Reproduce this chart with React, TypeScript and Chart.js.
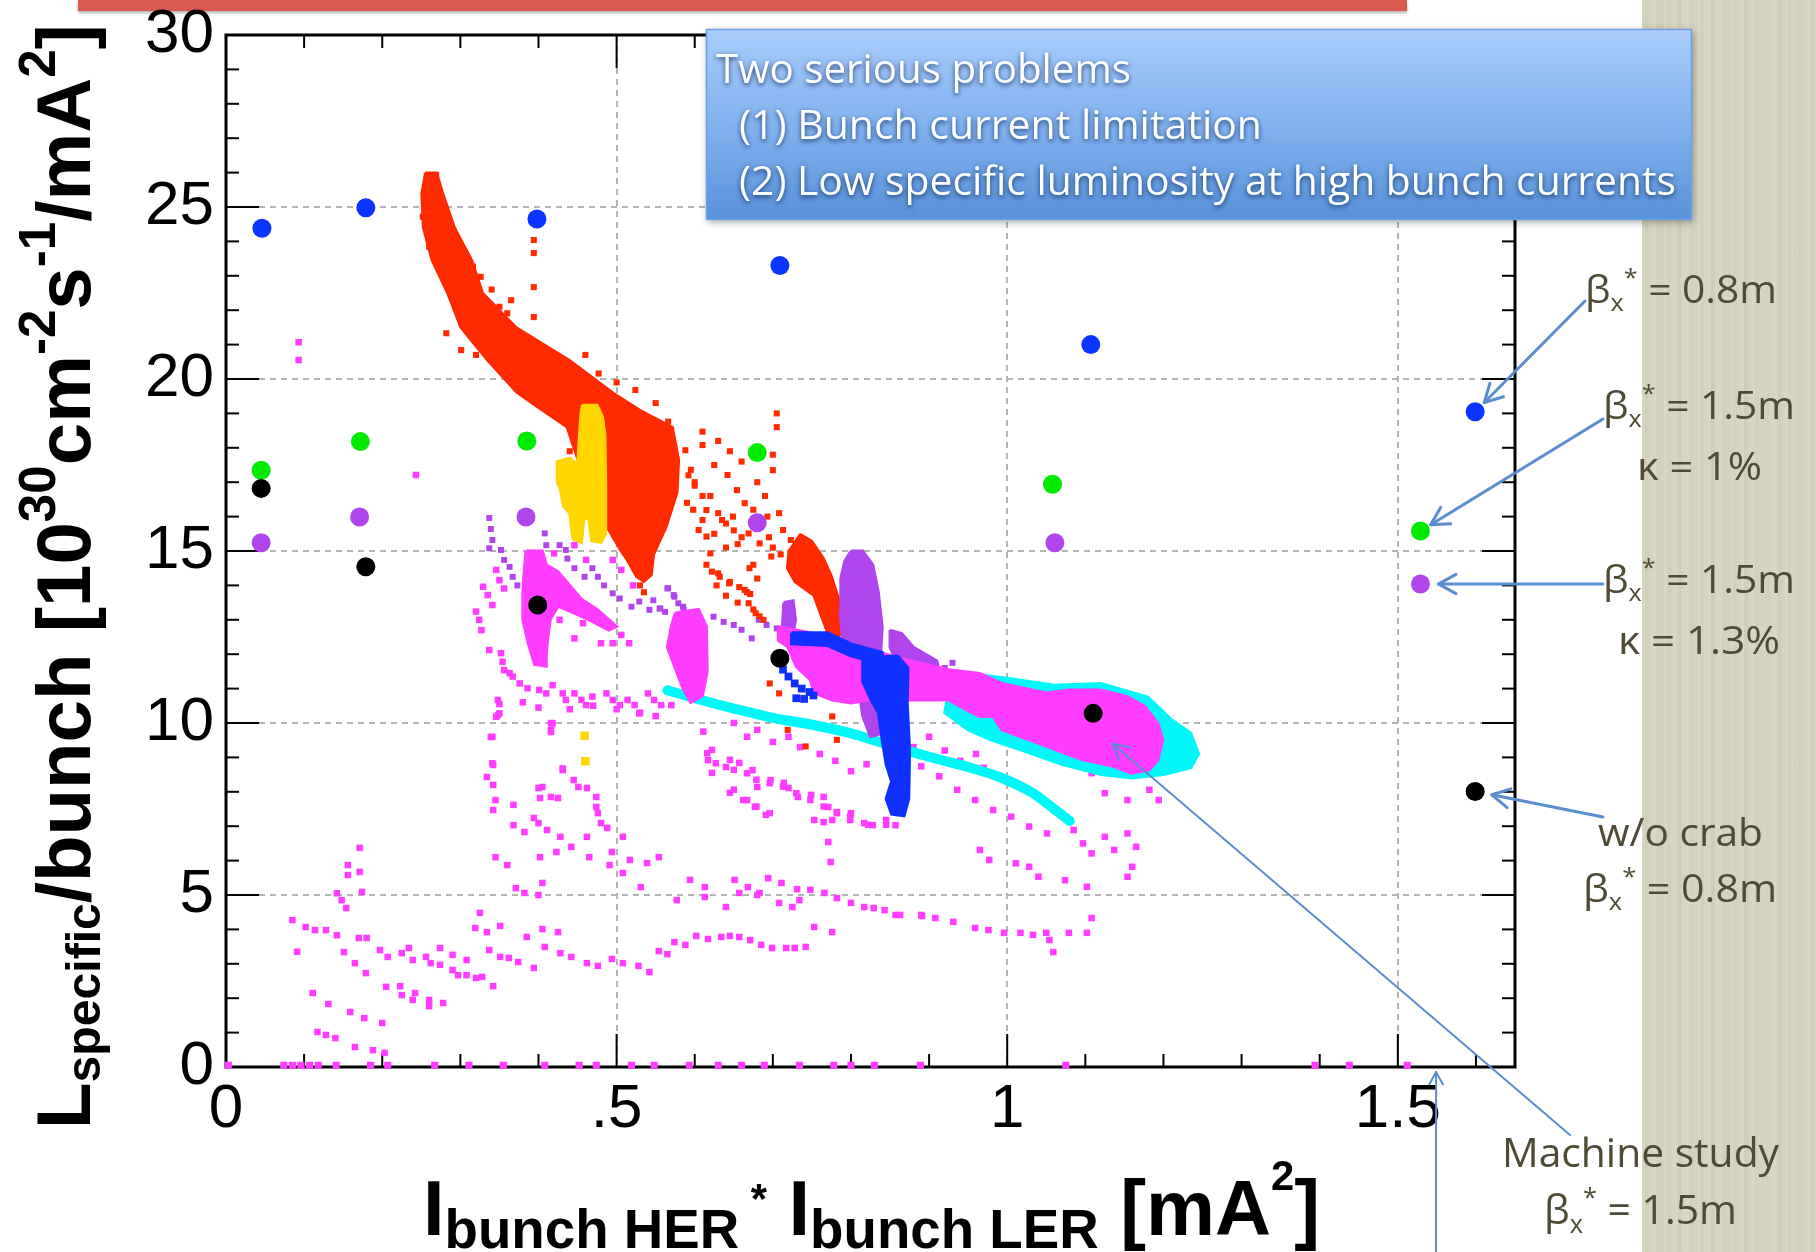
import React, { useEffect, useRef } from 'react';
import { Chart, registerables } from 'chart.js';

Chart.register(...registerables);

type P = [number, number];

// ---------------- axes ----------------
const xTickValues = [0, 0.5, 1, 1.5];
const xTickLabels = ['0', '.5', '1', '1.5'];
const yTickValues = [0, 5, 10, 15, 20, 25, 30];
const yTickLabels = ['0', '5', '10', '15', '20', '25', '30'];

// ---------------- big markers (machine runs) ----------------
const blueX = [0.046, 0.179, 0.398, 0.709, 1.107, 1.599];
const blueY = [24.38, 24.98, 24.65, 23.3, 21.0, 19.05];
const greenX = [0.045, 0.172, 0.385, 0.68, 1.058, 1.529];
const greenY = [17.35, 18.18, 18.2, 17.86, 16.94, 15.58];
const purpleX = [0.045, 0.171, 0.384, 0.68, 1.061, 1.529];
const purpleY = [15.24, 15.99, 15.99, 15.82, 15.24, 14.04];
const blackX = [0.045, 0.179, 0.399, 0.709, 1.11, 1.599];
const blackY = [16.82, 14.54, 13.43, 11.88, 10.28, 8.01];

// ---------------- clouds: dense regions (outlines) ----------------
const redCore: P[] = [[0.255,26.0],[0.25,25.4],[0.252,24.4],[0.263,23.46],[0.283,22.5],[0.3,21.5],[0.334,20.55],[0.372,19.6],[0.41,19.0],[0.436,18.6],[0.45,17.65],[0.47,16.7],[0.487,15.7],[0.505,15.0],[0.513,14.74],[0.525,14.25],[0.535,14.1],[0.545,14.3],[0.548,14.9],[0.564,15.7],[0.578,16.7],[0.58,17.65],[0.572,18.6],[0.53,19.1],[0.496,19.6],[0.44,20.55],[0.372,21.5],[0.329,22.5],[0.315,23.46],[0.293,24.4],[0.278,25.4],[0.27,26.0]];
const redColumn: P[] = [[0.735,15.5],[0.75,15.3],[0.765,14.8],[0.775,14.3],[0.785,13.6],[0.79,12.8],[0.785,12.5],[0.77,12.6],[0.76,13.2],[0.752,13.7],[0.74,13.9],[0.728,14.1],[0.718,14.5],[0.72,15.0]];
const yellowCore: P[] = [[0.456,19.24],[0.475,19.24],[0.482,18.9],[0.485,18.4],[0.486,17.0],[0.486,15.5],[0.48,15.25],[0.468,15.3],[0.464,16.0],[0.458,15.9],[0.455,15.25],[0.444,15.35],[0.44,16.1],[0.432,16.3],[0.428,16.8],[0.424,17.0],[0.424,17.6],[0.44,17.7],[0.45,17.5],[0.452,18.2],[0.454,18.9]];
const purpleColumn: P[] = [[0.8,15.0],[0.815,15.0],[0.828,14.6],[0.835,13.8],[0.84,12.8],[0.838,12.0],[0.84,11.2],[0.845,10.5],[0.84,9.7],[0.825,9.6],[0.815,10.2],[0.81,11.0],[0.8,11.6],[0.79,12.3],[0.786,13.2],[0.787,14.2],[0.792,14.7]];
const purpleSmall: P[] = [[0.714,13.5],[0.726,13.55],[0.729,13.0],[0.726,12.6],[0.712,12.7]];
const purplePatch: P[] = [[0.85,12.7],[0.865,12.6],[0.88,12.2],[0.91,11.8],[0.915,11.3],[0.9,11.1],[0.875,11.3],[0.86,11.7],[0.85,12.2]];
const magentaA: P[] = [[0.384,15.0],[0.405,15.0],[0.41,14.6],[0.425,14.4],[0.44,14.0],[0.455,13.6],[0.475,13.3],[0.5,12.8],[0.49,12.7],[0.465,13.0],[0.445,13.2],[0.425,13.4],[0.415,13.0],[0.412,12.5],[0.41,12.0],[0.41,11.65],[0.395,11.7],[0.387,12.3],[0.38,13.0],[0.38,13.8],[0.382,14.5]];
const magentaB: P[] = [[0.575,13.2],[0.605,13.3],[0.615,12.8],[0.616,11.5],[0.61,10.8],[0.595,10.6],[0.585,11.0],[0.575,11.6],[0.565,12.2],[0.57,12.8]];
const magentaC: P[] = [[0.707,12.8],[0.753,12.6],[0.8,12.3],[0.86,11.9],[0.925,11.55],[0.965,11.44],[0.993,11.15],[1.05,10.87],[1.079,10.96],[1.119,10.96],[1.153,10.77],[1.176,10.48],[1.193,9.99],[1.199,9.51],[1.193,8.93],[1.182,8.64],[1.159,8.54],[1.136,8.74],[1.119,8.83],[1.097,8.93],[1.074,9.12],[1.051,9.32],[1.028,9.51],[0.993,9.8],[0.982,10.19],[0.965,10.19],[0.948,10.38],[0.925,10.67],[0.879,10.67],[0.822,10.67],[0.8,10.58],[0.776,10.67],[0.753,10.87],[0.748,11.25],[0.73,11.64],[0.719,12.22],[0.707,12.4]];
const cyanHead: P[] = [[0.93,11.5],[1.0,11.3],[1.06,11.1],[1.12,11.15],[1.18,10.75],[1.21,10.1],[1.235,9.7],[1.245,9.1],[1.235,8.7],[1.2,8.5],[1.16,8.4],[1.12,8.5],[1.07,8.8],[1.02,9.2],[0.98,9.5],[0.95,9.8],[0.92,10.3]];
const cyanBand: P[] = [[0.565,10.95],[0.6,10.72],[0.65,10.42],[0.7,10.15],[0.75,9.95],[0.8,9.7],[0.85,9.35],[0.9,9.02],[0.95,8.72],[0.99,8.43],[1.03,8.0],[1.06,7.5],[1.08,7.15]];
const blueStrand: P[] = [[0.815,11.9],[0.86,11.95],[0.873,11.6],[0.872,10.6],[0.875,9.2],[0.874,7.8],[0.868,7.3],[0.852,7.35],[0.845,7.8],[0.852,8.3],[0.845,8.8],[0.84,9.5],[0.835,10.3],[0.825,10.7],[0.815,11.2]];
const blueTop: P[] = [[0.724,12.62],[0.77,12.62],[0.8,12.3],[0.84,12.05],[0.84,11.7],[0.8,11.95],[0.77,12.25],[0.724,12.3]];
const blueHook: P[] = [[0.713,11.55],[0.72,11.35],[0.728,11.15],[0.737,11.0],[0.747,10.9],[0.752,10.8],[0.74,10.7],[0.73,10.72]];

// ---------------- clouds: sparse points ----------------
const yellowDots: P[] = [[0.459,9.63],[0.46,8.89]];
const redDots: P[] = [[0.257,25.88],[0.269,25.93],[0.272,25.4],[0.252,24.72],[0.291,24.33],[0.296,24.04],[0.26,23.85],[0.274,23.56],[0.316,23.27],[0.326,22.97],[0.34,22.6],[0.35,22.1],[0.365,22.29],[0.36,21.91],[0.282,21.33],[0.301,20.84],[0.32,20.7],[0.384,20.36],[0.46,20.7],[0.477,20.16],[0.5,19.9],[0.524,19.68],[0.55,19.3],[0.566,18.76],[0.61,18.47],[0.61,18.08],[0.588,17.93],[0.595,17.36],[0.625,17.5],[0.642,17.21],[0.654,16.77],[0.664,16.39],[0.615,16.19],[0.605,15.61],[0.615,15.42],[0.649,16.0],[0.669,15.51],[0.693,16.0],[0.713,15.61],[0.723,15.32],[0.62,14.93],[0.63,14.35],[0.644,14.06],[0.664,13.87],[0.669,13.48],[0.678,13.19],[0.688,13.0],[0.683,15.22],[0.698,14.84],[0.708,16.1],[0.566,16.58],[0.394,24.04],[0.394,23.66],[0.394,22.67],[0.394,21.8],[0.705,19.0],[0.705,18.6],[0.7,17.8],[0.7,17.35],[0.622,14.4],[0.632,14.25],[0.645,14.1],[0.657,13.95],[0.667,13.8],[0.671,13.75],[0.675,13.3],[0.683,13.1],[0.696,11.15],[0.708,10.86],[0.776,10.19],[0.782,9.51],[0.719,9.8],[0.742,9.32],[0.6,17.0],[0.62,16.6],[0.635,15.9],[0.655,15.2],[0.675,14.6],[0.59,16.4],[0.592,17.2],[0.6,16.9],[0.61,16.6],[0.63,16.1],[0.64,15.8],[0.65,15.6],[0.66,15.4],[0.598,16.2],[0.61,15.9],[0.625,15.5],[0.64,15.1],[0.67,14.5],[0.68,14.2],[0.615,14.6],[0.628,14.0],[0.64,13.7],[0.655,13.5],[0.675,16.2],[0.685,15.8],[0.695,15.4],[0.7,15.1],[0.71,14.9],[0.68,17.0],[0.69,16.6],[0.66,17.6],[0.645,17.9],[0.63,18.2],[0.53,14.0],[0.535,13.8],[0.44,17.9],[0.445,18.2]];
const purpleDots: P[] = [[0.337,15.96],[0.339,15.64],[0.341,15.32],[0.337,15.08],[0.352,15.03],[0.356,14.74],[0.363,14.54],[0.367,14.25],[0.373,14.0],[0.408,15.51],[0.41,15.17],[0.427,15.17],[0.435,15.03],[0.437,14.78],[0.446,14.5],[0.459,14.25],[0.469,14.5],[0.476,14.25],[0.484,14.0],[0.495,13.77],[0.504,13.62],[0.519,13.38],[0.529,13.53],[0.542,13.29],[0.555,13.33],[0.566,13.92],[0.574,13.67],[0.585,13.38],[0.565,13.91],[0.573,13.72],[0.579,13.48],[0.586,13.29],[0.59,13.09],[0.547,13.57],[0.556,13.33],[0.562,13.23],[0.624,13.09],[0.637,12.94],[0.65,12.85],[0.66,12.71],[0.673,12.46],[0.682,13.0],[0.692,12.85],[0.705,12.75],[0.92,11.6],[0.93,11.75]];
const magentaDots: P[] = [
  [0.093,21.07],[0.093,20.55],[0.243,17.21],
  [0.329,13.96],[0.335,13.72],[0.341,13.43],[0.32,13.24],[0.324,13.0],[0.327,12.7],[0.346,14.45],[0.35,14.15],[0.356,13.91],
  [0.337,12.12],[0.352,12.03],[0.354,11.78],[0.356,11.54],[0.363,11.45],[0.367,11.35],[0.376,11.15],[0.386,11.01],[0.401,10.96],[0.41,10.86],[0.418,11.1],[0.431,10.86],[0.435,10.67],[0.446,10.86],[0.455,10.67],[0.461,10.52],[0.469,10.77],[0.487,10.86],[0.495,10.67],[0.504,10.52],[0.514,10.67],[0.523,10.52],[0.529,10.28],[0.54,10.86],[0.548,10.67],[0.557,10.52],[0.57,10.52],
  [0.348,10.67],[0.35,10.28],[0.346,10.18],[0.341,9.6],[0.418,9.99],[0.416,9.8],[0.341,8.83],[0.431,8.68],
  [0.427,13.0],[0.446,12.46],[0.457,12.9],[0.48,12.32],[0.495,12.32],[0.506,12.56],[0.516,12.32],[0.495,14.74],[0.506,14.45],[0.521,14.0],[0.461,14.74],[0.446,15.17],[0.42,14.93],
  [0.35,10.55],[0.38,10.6],[0.4,10.45],[0.44,10.4],[0.47,10.5],[0.5,10.4],[0.53,10.3],[0.55,10.2],
  [0.171,6.37],[0.156,5.87],[0.171,5.67],[0.156,5.58],[0.142,5.05],[0.174,5.09],[0.148,4.85],[0.154,4.62],
  [0.085,4.27],[0.102,4.07],[0.114,3.98],[0.128,3.98],[0.142,3.83],[0.091,3.35],
  [0.151,3.34],[0.165,3.02],[0.179,2.73],
  [0.111,2.15],[0.131,1.83],[0.159,1.6],[0.177,1.42],[0.2,1.28],
  [0.117,1.02],[0.128,0.93],[0.14,0.84],
  [0.165,0.58],[0.188,0.49],[0.203,0.41],
  [0.17,3.75],[0.18,3.75],
  [0.197,3.4],[0.207,3.2],[0.225,3.31],[0.234,3.46],[0.239,3.11],
  [0.256,3.2],[0.262,3.02],[0.274,3.46],[0.274,2.97],[0.29,3.26],[0.29,2.82],[0.297,2.67],[0.308,3.11],[0.308,2.67],[0.32,2.59],[0.328,2.62],[0.342,2.35],
  [0.205,2.33],[0.223,2.35],[0.225,2.09],[0.242,2.15],[0.239,1.95],[0.26,1.95],[0.26,1.77],[0.278,1.86],
  [0.325,4.48],[0.319,4.04],[0.334,3.92],[0.351,4.1],
  [0.337,3.4],[0.351,3.2],[0.362,3.17],[0.374,3.05],[0.394,2.88],
  [0.385,3.78],[0.405,4.01],[0.425,3.92],
  [0.408,3.49],[0.428,3.31],[0.442,3.2],[0.462,3.02],[0.476,2.94],[0.494,3.14],[0.508,3.02],[0.528,2.94],[0.542,2.76],
  [0.554,3.37],[0.565,3.28],[0.574,3.63],[0.588,3.55],[0.602,3.81],[0.617,3.72],[0.634,3.78],[0.645,3.81],[0.657,3.78],[0.671,3.69],[0.685,3.55],[0.699,3.46],[0.717,3.46],[0.728,3.46],[0.742,3.49],
  [0.753,4.07],[0.776,3.92],
  [0.857,4.42],[0.89,4.42],[0.908,4.33],[0.931,4.22],[0.959,4.04],[0.976,3.98],[0.996,3.9],[1.017,3.9],[1.033,3.84],[1.05,3.9],[1.079,3.9],[1.102,3.9],[1.108,4.33],[1.054,3.69],[1.059,3.34],
  [0.651,5.44],[0.668,5.23],[0.683,5.06],[0.694,5.49],[0.711,5.35],[0.731,5.17],[0.748,5.15],[0.766,5.06],[0.782,4.91],[0.8,4.77],[0.817,4.65],[0.829,4.62],[0.843,4.56],[0.863,4.42],[0.891,4.39],
  [0.577,4.85],[0.594,5.44],[0.613,5.23],[0.613,4.94],[0.64,4.65],[0.657,5.06],[0.68,5.0],[0.708,4.77],[0.725,4.65],[0.734,4.85],
  [0.508,6.69],[0.539,5.93],[0.554,6.1],[0.517,6.02],[0.531,5.23],[0.494,6.25],[0.491,5.87],[0.508,5.64],
  [0.462,6.69],[0.465,6.1],[0.442,6.4],[0.428,6.69],[0.423,6.25],[0.402,6.1],[0.405,5.35],[0.371,5.2],[0.382,5.06],[0.4,5.0],
  [0.345,6.1],[0.36,5.87],
  [0.368,7.03],[0.382,6.83],[0.394,7.24],[0.4,7.09],[0.411,6.89],[0.368,7.62],
  [0.402,7.82],[0.416,7.85],[0.425,7.82],[0.4,8.11],[0.405,8.14],
  [0.339,9.59],[0.342,8.78],[0.334,8.43],[0.342,8.2],[0.345,7.76],[0.342,7.47],
  [0.348,10.23],[0.416,10.0],[0.416,9.74],
  [0.431,8.63],[0.445,8.34],[0.451,8.14],[0.462,8.11],[0.474,7.85],[0.474,7.56],[0.476,7.38],[0.48,7.09],[0.488,6.95],
  [0.611,9.75],[0.622,9.22],[0.622,8.55],[0.617,8.92],[0.64,8.72],[0.657,8.84],[0.674,8.63],[0.68,8.14],[0.697,8.34],[0.714,8.26],[0.72,8.11],[0.645,7.97],[0.662,7.76],[0.677,7.56],[0.691,7.33],[0.732,7.85],[0.749,7.91],[0.765,7.85],[0.771,7.56],[0.782,7.41],[0.8,7.38],[0.817,7.09],[0.828,7.03],[0.845,7.18],[0.857,7.03],[0.765,7.12],[0.771,6.54],[0.774,5.96],
  [0.616,9.12],[0.627,8.83],[0.645,8.93],[0.65,8.64],[0.667,8.54],[0.679,8.35],[0.696,8.25],[0.713,8.15],[0.73,7.96],[0.748,7.76],[0.765,7.57],[0.782,7.38],[0.799,7.18],
  [0.65,8.06],[0.667,7.76],[0.679,7.57],[0.696,7.38],
  [0.753,7.18],[0.776,7.18],[0.799,7.28],[0.822,7.04],[0.845,7.04],
  [0.89,8.74],[0.913,8.45],[0.936,8.06],[0.959,7.76],[0.982,7.47],[1.005,7.28],[1.028,6.99],[1.051,6.79],
  [1.085,6.89],[1.097,6.5],[1.108,6.21],[1.125,6.69],[1.137,6.31],[1.154,6.79],[1.165,6.4],[1.16,5.82],[1.154,5.53],
  [1.108,8.54],[1.125,7.96],[1.154,7.76],[1.182,8.06],[1.194,7.76],
  [0.965,6.31],[0.977,6.02],[1.011,5.92],[1.028,5.82],[1.04,5.53],[1.074,5.43],[1.102,5.24],
  [0.87,9.6],[0.88,9.3],[0.9,9.6],[0.92,9.2],[0.94,8.9],[0.96,9.1],[0.97,8.7],
  [0.65,10.0],[0.667,9.6],[0.68,9.8],[0.7,9.45],[0.72,9.6],[0.735,9.3],[0.76,9.1],[0.78,8.9],[0.8,8.6],[0.82,8.8]
];
const axisDots: P[] = [[0.003,0.05],[0.074,0.05],[0.085,0.05],[0.096,0.05],[0.107,0.05],[0.118,0.05],[0.141,0.05],[0.185,0.05],[0.207,0.05],[0.267,0.05],[0.311,0.05],[0.355,0.05],[0.408,0.05],[0.452,0.05],[0.474,0.05],[0.519,0.05],[0.548,0.05],[0.593,0.05],[0.63,0.05],[0.66,0.05],[0.689,0.05],[0.734,0.05],[0.778,0.05],[0.8,0.05],[0.83,0.05],[0.889,0.05],[1.075,0.05],[1.394,0.05],[1.438,0.05],[1.512,0.05]];

// ---------------- colours ----------------
const C = {
  magenta: '#ff3cff', red: '#ff2a00', yellow: '#ffd600', purple: '#b045ee',
  cyan: '#00f8f8', blue: '#1030ff', dotBlue: '#0a35ff', green: '#00ea00', black: '#000000',
  arrow: '#5a8dd0', label: '#4e4a34',
};

const W = 1816;
const H = 1252;

const toXY = (pts: P[]) => pts.map(([x, y]) => ({ x, y }));
const xyPairs = (xs: number[], ys: number[]) => xs.map((x, i) => ({ x, y: ys[i] }));

function dots(pts: P[], color: string, r: number, order: number, extra: any = {}) {
  return { type: 'scatter', data: toXY(pts), pointStyle: 'rect', pointRadius: r, pointBackgroundColor: color, backgroundColor: color, pointBorderWidth: 0, borderWidth: 0, order, ...extra };
}
function poly(pts: P[], color: string, order: number, bw = 3) {
  return { type: 'line', data: toXY([...pts, pts[0]]), borderColor: color, backgroundColor: color, borderWidth: bw, pointRadius: 0, fill: 'shape', tension: 0, order };
}
function band(pts: P[], color: string, width: number, order: number) {
  return { type: 'line', data: toXY(pts), borderColor: color, borderWidth: width, pointRadius: 0, fill: false, tension: 0.35, borderCapStyle: 'round', borderJoinStyle: 'round', order };
}
function bigDots(xs: number[], ys: number[], color: string, order: number) {
  return { type: 'scatter', data: xyPairs(xs, ys), pointStyle: 'circle', pointRadius: 9.5, pointBackgroundColor: color, pointBorderWidth: 0, borderWidth: 0, order };
}

type Seg = { t: string; s: number; dy?: number };

function drawRich(ctx: CanvasRenderingContext2D, segs: Seg[], x: number, y: number, family: string, weight: string, targetW?: number) {
  const widths = segs.map((sg) => { ctx.font = `${weight} ${sg.s}px ${family}`; return ctx.measureText(sg.t).width; });
  const total = widths.reduce((a, b) => a + b, 0);
  const k = targetW ? targetW / total : 1;
  ctx.save();
  ctx.translate(x, y);
  ctx.scale(k, 1);
  let cx = 0;
  segs.forEach((sg, i) => {
    ctx.font = `${weight} ${sg.s}px ${family}`;
    ctx.fillText(sg.t, cx, sg.dy || 0);
    cx += widths[i];
  });
  ctx.restore();
}

function drawArrow(ctx: CanvasRenderingContext2D, x1: number, y1: number, x2: number, y2: number, lw: number, head: number) {
  ctx.save();
  ctx.strokeStyle = C.arrow;
  ctx.lineWidth = lw;
  ctx.lineCap = 'round';
  ctx.lineJoin = 'round';
  ctx.beginPath();
  ctx.moveTo(x1, y1);
  ctx.lineTo(x2, y2);
  ctx.stroke();
  const a = Math.atan2(y2 - y1, x2 - x1);
  const s = 0.5;
  ctx.beginPath();
  ctx.moveTo(x2 - head * Math.cos(a - s), y2 - head * Math.sin(a - s));
  ctx.lineTo(x2, y2);
  ctx.lineTo(x2 - head * Math.cos(a + s), y2 - head * Math.sin(a + s));
  ctx.stroke();
  ctx.restore();
}

function toward(cx: number, cy: number, tx: number, ty: number, gap: number): [number, number] {
  const dx = tx - cx, dy = ty - cy;
  const d = Math.hypot(dx, dy) || 1;
  return [cx + (dx / d) * gap, cy + (dy / d) * gap];
}

const beta = (val: string, s: number): Seg[] => [
  { t: 'β', s },
  { t: 'x', s: s * 0.62, dy: s * 0.22 },
  { t: '*', s: s * 0.62, dy: -s * 0.45 },
  { t: ` = ${val}`, s },
];

const decor = {
  id: 'decor',
  beforeDatasetsDraw(chart: any) {
    const { ctx, chartArea: a, scales } = chart;
    const x = scales.x, y = scales.y;
    ctx.save();
    ctx.strokeStyle = '#000';
    ctx.lineWidth = 2;
    const line = (x1: number, y1: number, x2: number, y2: number) => { ctx.beginPath(); ctx.moveTo(x1, y1); ctx.lineTo(x2, y2); ctx.stroke(); };
    for (let i = 0; i * 0.1 <= x.max + 1e-9; i++) {
      const px = x.getPixelForValue(i * 0.1);
      const L = i % 5 === 0 ? 33 : 13;
      line(px, a.bottom, px, a.bottom - L);
      line(px, a.top, px, a.top + L);
    }
    for (let i = 0; i <= y.max; i++) {
      const py = y.getPixelForValue(i);
      const L = i % 5 === 0 ? 33 : 13;
      line(a.left, py, a.left + L, py);
      line(a.right, py, a.right - L, py);
    }
    ctx.lineWidth = 3;
    ctx.strokeRect(a.left, a.top, a.right - a.left, a.bottom - a.top);
    ctx.restore();
  },
  afterDraw(chart: any) {
    const { ctx, chartArea: a, scales } = chart;
    const X = (v: number) => scales.x.getPixelForValue(v);
    const Y = (v: number) => scales.y.getPixelForValue(v);

    // axis titles
    ctx.save();
    ctx.fillStyle = '#000';
    ctx.textBaseline = 'alphabetic';
    ctx.save();
    ctx.translate(90, 1129);
    ctx.rotate(-Math.PI / 2);
    drawRich(ctx, [
      { t: 'L', s: 76 }, { t: 'specific', s: 48, dy: 10 }, { t: '/bunch [10', s: 76 }, { t: '30', s: 51, dy: -35 },
      { t: 'cm', s: 76 }, { t: '-2', s: 51, dy: -35 }, { t: 's', s: 76 }, { t: '-1', s: 51, dy: -35 },
      { t: '/mA', s: 76 }, { t: '2', s: 51, dy: -35 }, { t: ']', s: 76 },
    ], 0, 0, '"Liberation Sans", Arial, sans-serif', 'bold', 1105);
    ctx.restore();
    drawRich(ctx, [
      { t: 'I', s: 78 }, { t: 'bunch HER', s: 55, dy: 13 }, { t: ' *', s: 42, dy: -22 }, { t: ' I', s: 78 },
      { t: 'bunch LER', s: 55, dy: 13 }, { t: ' [mA', s: 78 }, { t: '2', s: 42, dy: -45 }, { t: ']', s: 78 },
    ], 423, 1235, '"Liberation Sans", Arial, sans-serif', 'bold', 897);
    ctx.restore();

    // arrows
    const a1 = toward(X(blueX[5]), Y(blueY[5]), 1585, 301, 13);
    drawArrow(ctx, 1585, 301, a1[0], a1[1], 3, 20);
    const a2 = toward(X(greenX[5]), Y(greenY[5]), 1603, 419, 12);
    drawArrow(ctx, 1603, 419, a2[0], a2[1], 3, 20);
    const a3 = toward(X(purpleX[5]), Y(purpleY[5]), 1603, 584, 18);
    drawArrow(ctx, 1603, 584, a3[0], a3[1], 3, 20);
    const a4 = toward(X(blackX[5]), Y(blackY[5]), 1603, 817, 17);
    drawArrow(ctx, 1603, 817, a4[0], a4[1], 3, 20);
    drawArrow(ctx, 1570, 1135, X(1.135), Y(9.4), 2, 18);
    drawArrow(ctx, X(1.549), H + 2, X(1.549), a.bottom + 5, 2, 14);

    // right-hand labels
    ctx.save();
    ctx.fillStyle = C.label;
    ctx.textBaseline = 'alphabetic';
    const OS = '"Open Sans", "DejaVu Sans", sans-serif';
    drawRich(ctx, beta('0.8m', 38), 1585, 303, OS, 'normal', 192);
    drawRich(ctx, beta('1.5m', 38), 1603, 419, OS, 'normal', 192);
    drawRich(ctx, [{ t: 'κ = 1%', s: 38 }], 1637, 480, OS, 'normal', 125);
    drawRich(ctx, beta('1.5m', 38), 1603, 593, OS, 'normal', 192);
    drawRich(ctx, [{ t: 'κ = 1.3%', s: 38 }], 1618, 654, OS, 'normal', 162);
    drawRich(ctx, [{ t: 'w/o crab', s: 38 }], 1598, 846, OS, 'normal', 165);
    drawRich(ctx, beta('0.8m', 38), 1583, 902, OS, 'normal', 194);
    drawRich(ctx, [{ t: 'Machine study', s: 40 }], 1502, 1167, OS, 'normal', 277);
    drawRich(ctx, beta('1.5m', 40), 1544, 1224, OS, 'normal', 193);
    ctx.restore();

    // blue call-out box
    ctx.save();
    ctx.shadowColor = 'rgba(0,0,0,0.35)';
    ctx.shadowBlur = 8;
    ctx.shadowOffsetX = 2;
    ctx.shadowOffsetY = 3;
    const g = ctx.createLinearGradient(0, 29, 0, 219);
    g.addColorStop(0, '#a9cdfb');
    g.addColorStop(0.5, '#82b2f0');
    g.addColorStop(1, '#5892da');
    ctx.fillStyle = g;
    ctx.fillRect(706, 29, 985, 190);
    ctx.restore();
    ctx.save();
    ctx.strokeStyle = '#6e9fe2';
    ctx.lineWidth = 1.5;
    ctx.strokeRect(706.5, 29.5, 985, 190);
    ctx.fillStyle = '#ffffff';
    ctx.shadowColor = 'rgba(10,30,80,0.8)';
    ctx.shadowBlur = 5;
    ctx.shadowOffsetY = 2;
    ctx.textBaseline = 'alphabetic';
    drawRich(ctx, [{ t: 'Two serious problems', s: 40 }], 716, 83, OS, 'normal', 415);
    drawRich(ctx, [{ t: '(1) Bunch current limitation', s: 40 }], 739, 139, OS, 'normal', 523);
    drawRich(ctx, [{ t: '(2) Low specific luminosity at high bunch currents', s: 40 }], 739, 195, OS, 'normal', 937);
    ctx.restore();
  },
};

export default function App() {
  const ref = useRef<HTMLCanvasElement | null>(null);

  useEffect(() => {
    if (!ref.current) return;
    const tickFont = { family: '"Liberation Sans", Arial, sans-serif', size: 62, lineHeight: 1 };
    const datasets: any[] = [
      bigDots(blackX, blackY, C.black, 0),
      bigDots(purpleX, purpleY, C.purple, 1),
      bigDots(greenX, greenY, C.green, 2),
      bigDots(blueX, blueY, C.dotBlue, 3),
      dots(blueHook, C.blue, 5.5, 5),
      poly(blueTop, C.blue, 6),
      poly(blueStrand, C.blue, 7),
      poly(magentaC, C.magenta, 10),
      poly(magentaB, C.magenta, 11),
      poly(magentaA, C.magenta, 12),
      poly(purplePatch, C.purple, 14),
      poly(purpleSmall, C.purple, 15),
      poly(purpleColumn, C.purple, 16),
      dots(yellowDots, C.yellow, 6, 19),
      poly(yellowCore, C.yellow, 20),
      poly(redColumn, C.red, 24, 2),
      dots(redDots, C.red, 4.3, 25),
      poly(redCore, C.red, 26, 2),
      poly(cyanHead, C.cyan, 30),
      band(cyanBand, C.cyan, 10, 31),
      dots(purpleDots, C.purple, 4.2, 35),
      dots(axisDots, C.magenta, 5, 38, { clip: false }),
      dots(magentaDots, C.magenta, 4.6, 40),
    ];
    const chart = new Chart(ref.current, {
      type: 'scatter',
      data: { datasets },
      options: {
        animation: false,
        responsive: false,
        devicePixelRatio: 1,
        events: [],
        layout: { padding: { left: 0, right: W - 1515, top: 35, bottom: 0 } },
        plugins: { legend: { display: false }, tooltip: { enabled: false } },
        scales: {
          x: {
            type: 'linear', min: 0, max: 1.65,
            afterBuildTicks: (s: any) => { s.ticks = xTickValues.map((v) => ({ value: v })); },
            afterFit: (s: any) => { s.height = H - 1067; s.paddingLeft = 0; s.paddingRight = 0; },
            ticks: {
              autoSkip: false, maxRotation: 0, padding: 6, color: '#000', font: { ...tickFont, lineHeight: 1.2 },
              callback: (v: any) => { const i = xTickValues.findIndex((t) => Math.abs(t - Number(v)) < 1e-9); return i >= 0 ? xTickLabels[i] : ''; },
            },
            grid: { color: '#b3b3b3', lineWidth: 2, drawTicks: false },
            border: { display: false, dash: [6, 5] },
          },
          y: {
            type: 'linear', min: 0, max: 30,
            afterBuildTicks: (s: any) => { s.ticks = yTickValues.map((v) => ({ value: v })); },
            afterFit: (s: any) => { s.width = 226; s.paddingTop = 0; s.paddingBottom = 0; },
            ticks: {
              autoSkip: false, padding: 12, color: '#000', font: tickFont,
              callback: (v: any) => { const i = yTickValues.indexOf(Number(v)); return i >= 0 ? yTickLabels[i] : ''; },
            },
            grid: { color: '#b3b3b3', lineWidth: 2, drawTicks: false },
            border: { display: false, dash: [6, 5] },
          },
        },
      } as any,
      plugins: [decor],
    } as any);
    return () => chart.destroy();
  }, []);

  const strip: React.CSSProperties = {
    position: 'absolute', left: 1642, top: 0, width: W - 1642, height: H,
    background:
      'repeating-linear-gradient(90deg, rgba(255,255,255,0.06) 0px, rgba(255,255,255,0.06) 3px, rgba(0,0,0,0.018) 3px, rgba(0,0,0,0.018) 7px, rgba(255,255,255,0) 7px, rgba(255,255,255,0) 11px),' +
      'repeating-linear-gradient(90deg, rgba(110,100,70,0.03) 0px, rgba(110,100,70,0.03) 5px, rgba(255,255,255,0) 5px, rgba(255,255,255,0) 17px),' +
      '#d7d5c0',
  };
  const redbar: React.CSSProperties = {
    position: 'absolute', left: 78, top: 0, width: 1329, height: 11,
    background: '#d95b4f', boxShadow: '0 2px 3px rgba(0,0,0,0.3)',
  };

  return (
    <div style={{ position: 'fixed', left: 0, top: 0, width: W, height: H, background: '#ffffff', overflow: 'hidden' }}>
      <div style={strip} />
      <div style={redbar} />
      <canvas ref={ref} width={W} height={H} style={{ position: 'absolute', left: 0, top: 0, width: W, height: H }} />
    </div>
  );
}
